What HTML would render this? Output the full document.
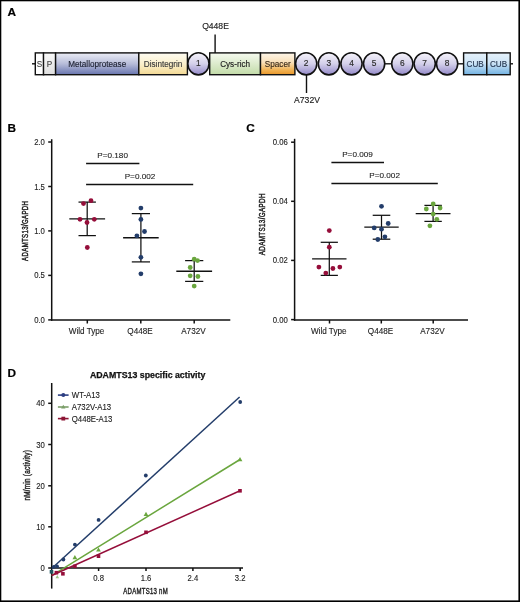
<!DOCTYPE html><html><head><meta charset="utf-8"><style>
html,body{margin:0;padding:0;background:#fff;}
svg{display:block;will-change:transform;font-family:"Liberation Sans", sans-serif;}
</style></head><body>
<svg width="520" height="602" viewBox="0 0 520 602">
<defs>
<linearGradient id="gP" x1="0" y1="0" x2="0" y2="1"><stop offset="0" stop-color="#fafafa"/><stop offset="1" stop-color="#dedede"/></linearGradient>
<linearGradient id="gM" x1="0" y1="0" x2="0" y2="1"><stop offset="0" stop-color="#eceef6"/><stop offset="0.5" stop-color="#b7bcd9"/><stop offset="1" stop-color="#6774ae"/></linearGradient>
<linearGradient id="gD" x1="0" y1="0" x2="0" y2="1"><stop offset="0" stop-color="#fefcf2"/><stop offset="0.5" stop-color="#fbf0cc"/><stop offset="1" stop-color="#f3d994"/></linearGradient>
<linearGradient id="gC" x1="0" y1="0" x2="0" y2="1"><stop offset="0" stop-color="#f6f4fb"/><stop offset="0.5" stop-color="#d4d0ea"/><stop offset="1" stop-color="#9288c8"/></linearGradient>
<linearGradient id="gY" x1="0" y1="0" x2="0" y2="1"><stop offset="0" stop-color="#f6fbf0"/><stop offset="1" stop-color="#c2dba8"/></linearGradient>
<linearGradient id="gS" x1="0" y1="0" x2="0" y2="1"><stop offset="0" stop-color="#fdf6ea"/><stop offset="0.45" stop-color="#f9deb6"/><stop offset="0.8" stop-color="#f0b050"/><stop offset="1" stop-color="#e8962a"/></linearGradient>
<linearGradient id="gU" x1="0" y1="0" x2="0" y2="1"><stop offset="0" stop-color="#e6f2fb"/><stop offset="0.45" stop-color="#cfe5f6"/><stop offset="1" stop-color="#72b2e2"/></linearGradient>
</defs>
<rect x="0" y="0" width="520" height="1.3" fill="#000"/>
<rect x="0" y="0" width="1.3" height="602" fill="#000"/>
<rect x="518.4" y="0" width="1.6" height="602" fill="#000"/>
<rect x="0" y="600.4" width="520" height="1.6" fill="#000"/>
<text transform="translate(7.5,16.1)" font-size="11.8" text-anchor="start" font-weight="bold" fill="#000" stroke="#000" stroke-width="0.2">A</text>
<text transform="translate(7.5,131.8)" font-size="11.8" text-anchor="start" font-weight="bold" fill="#000" stroke="#000" stroke-width="0.2">B</text>
<text transform="translate(246.3,131.7)" font-size="11.8" text-anchor="start" font-weight="bold" fill="#000" stroke="#000" stroke-width="0.2">C</text>
<text transform="translate(7.5,377.1)" font-size="11.8" text-anchor="start" font-weight="bold" fill="#000" stroke="#000" stroke-width="0.2">D</text>
<g stroke="#111" stroke-width="1.4">
<line x1="32" y1="63.8" x2="35.3" y2="63.8"/>
<rect x="35.3" y="52.9" width="8.300000000000004" height="21.800000000000004" fill="#fff"/>
<rect x="43.5" y="52.9" width="12.100000000000001" height="21.800000000000004" fill="url(#gP)"/>
<rect x="55.6" y="52.9" width="83.20000000000002" height="21.800000000000004" fill="url(#gM)"/>
<rect x="138.8" y="52.9" width="48.599999999999994" height="21.800000000000004" fill="url(#gD)"/>
<rect x="209.7" y="52.9" width="50.80000000000001" height="21.800000000000004" fill="url(#gY)"/>
<rect x="260.5" y="52.9" width="34.39999999999998" height="21.800000000000004" fill="url(#gS)"/>
<rect x="463.6" y="52.9" width="23.19999999999999" height="21.800000000000004" fill="url(#gU)"/>
<rect x="486.8" y="52.9" width="23.399999999999977" height="21.800000000000004" fill="url(#gU)"/>
<line x1="384" y1="63.8" x2="392" y2="63.8"/>
<line x1="457" y1="63.8" x2="464" y2="63.8"/>
<line x1="510" y1="63.8" x2="513" y2="63.8"/>
<ellipse cx="198.4" cy="63.8" rx="10.6" ry="11.1" fill="url(#gC)" stroke-width="1.6"/>
<ellipse cx="306.2" cy="63.8" rx="10.6" ry="11.1" fill="url(#gC)" stroke-width="1.6"/>
<ellipse cx="328.9" cy="63.8" rx="10.6" ry="11.1" fill="url(#gC)" stroke-width="1.6"/>
<ellipse cx="351.5" cy="63.8" rx="10.6" ry="11.1" fill="url(#gC)" stroke-width="1.6"/>
<ellipse cx="374.1" cy="63.8" rx="10.6" ry="11.1" fill="url(#gC)" stroke-width="1.6"/>
<ellipse cx="402.3" cy="63.8" rx="10.6" ry="11.1" fill="url(#gC)" stroke-width="1.6"/>
<ellipse cx="424.7" cy="63.8" rx="10.6" ry="11.1" fill="url(#gC)" stroke-width="1.6"/>
<ellipse cx="447.1" cy="63.8" rx="10.6" ry="11.1" fill="url(#gC)" stroke-width="1.6"/>
<line x1="215.1" y1="34.5" x2="215.1" y2="52.9"/>
<line x1="306.5" y1="74.7" x2="306.5" y2="93"/>
</g>
<text transform="translate(39.45,66.8) scale(0.96,1)" font-size="8.5" text-anchor="middle" font-weight="normal" fill="#444" stroke="#444" stroke-width="0.15">S</text>
<text transform="translate(49.55,66.8) scale(0.96,1)" font-size="8.5" text-anchor="middle" font-weight="normal" fill="#444" stroke="#444" stroke-width="0.15">P</text>
<text transform="translate(97.2,66.8) scale(0.96,1)" font-size="8.5" text-anchor="middle" font-weight="normal" fill="#1c2030" stroke="#1c2030" stroke-width="0.15">Metalloprotease</text>
<text transform="translate(163.10000000000002,66.8) scale(0.96,1)" font-size="8.5" text-anchor="middle" font-weight="normal" fill="#3a3a3a" stroke="#3a3a3a" stroke-width="0.15">Disintegrin</text>
<text transform="translate(235.1,66.8) scale(0.96,1)" font-size="8.5" text-anchor="middle" font-weight="normal" fill="#222" stroke="#222" stroke-width="0.15">Cys-rich</text>
<text transform="translate(277.7,66.8) scale(0.96,1)" font-size="8.5" text-anchor="middle" font-weight="normal" fill="#3a2a1a" stroke="#3a2a1a" stroke-width="0.15">Spacer</text>
<text transform="translate(475.20000000000005,66.8) scale(0.96,1)" font-size="8.5" text-anchor="middle" font-weight="normal" fill="#253650" stroke="#253650" stroke-width="0.15">CUB</text>
<text transform="translate(498.5,66.8) scale(0.96,1)" font-size="8.5" text-anchor="middle" font-weight="normal" fill="#253650" stroke="#253650" stroke-width="0.15">CUB</text>
<text transform="translate(198.4,66.39999999999999)" font-size="8.4" text-anchor="middle" font-weight="normal" fill="#2a2a2a" stroke="#2a2a2a" stroke-width="0.15">1</text>
<text transform="translate(306.2,66.39999999999999)" font-size="8.4" text-anchor="middle" font-weight="normal" fill="#2a2a2a" stroke="#2a2a2a" stroke-width="0.15">2</text>
<text transform="translate(328.9,66.39999999999999)" font-size="8.4" text-anchor="middle" font-weight="normal" fill="#2a2a2a" stroke="#2a2a2a" stroke-width="0.15">3</text>
<text transform="translate(351.5,66.39999999999999)" font-size="8.4" text-anchor="middle" font-weight="normal" fill="#2a2a2a" stroke="#2a2a2a" stroke-width="0.15">4</text>
<text transform="translate(374.1,66.39999999999999)" font-size="8.4" text-anchor="middle" font-weight="normal" fill="#2a2a2a" stroke="#2a2a2a" stroke-width="0.15">5</text>
<text transform="translate(402.3,66.39999999999999)" font-size="8.4" text-anchor="middle" font-weight="normal" fill="#2a2a2a" stroke="#2a2a2a" stroke-width="0.15">6</text>
<text transform="translate(424.7,66.39999999999999)" font-size="8.4" text-anchor="middle" font-weight="normal" fill="#2a2a2a" stroke="#2a2a2a" stroke-width="0.15">7</text>
<text transform="translate(447.1,66.39999999999999)" font-size="8.4" text-anchor="middle" font-weight="normal" fill="#2a2a2a" stroke="#2a2a2a" stroke-width="0.15">8</text>
<text transform="translate(215.5,29.2)" font-size="8.6" text-anchor="middle" font-weight="normal" fill="#222" stroke="#222" stroke-width="0.15">Q448E</text>
<text transform="translate(307,103.2)" font-size="8.6" text-anchor="middle" font-weight="normal" fill="#222" stroke="#222" stroke-width="0.15">A732V</text>
<g stroke="#111" stroke-width="1.5" fill="none">
<line x1="51.7" y1="139.2" x2="51.7" y2="320.7"/>
<line x1="51.0" y1="320.0" x2="230.3" y2="320.0"/>
<line x1="48.2" y1="142" x2="51.7" y2="142"/>
<line x1="48.2" y1="186.5" x2="51.7" y2="186.5"/>
<line x1="48.2" y1="230.9" x2="51.7" y2="230.9"/>
<line x1="48.2" y1="275.4" x2="51.7" y2="275.4"/>
<line x1="48.2" y1="319.9" x2="51.7" y2="319.9"/>
<line x1="87.3" y1="320.0" x2="87.3" y2="323.5"/>
<line x1="140.8" y1="320.0" x2="140.8" y2="323.5"/>
<line x1="194.2" y1="320.0" x2="194.2" y2="323.5"/>
</g>
<text transform="translate(44.900000000000006,145.0) scale(0.92,1)" font-size="8.4" text-anchor="end" font-weight="normal" fill="#222" stroke="#222" stroke-width="0.12">2.0</text>
<text transform="translate(44.900000000000006,189.5) scale(0.92,1)" font-size="8.4" text-anchor="end" font-weight="normal" fill="#222" stroke="#222" stroke-width="0.12">1.5</text>
<text transform="translate(44.900000000000006,233.9) scale(0.92,1)" font-size="8.4" text-anchor="end" font-weight="normal" fill="#222" stroke="#222" stroke-width="0.12">1.0</text>
<text transform="translate(44.900000000000006,278.4) scale(0.92,1)" font-size="8.4" text-anchor="end" font-weight="normal" fill="#222" stroke="#222" stroke-width="0.12">0.5</text>
<text transform="translate(44.900000000000006,322.9) scale(0.92,1)" font-size="8.4" text-anchor="end" font-weight="normal" fill="#222" stroke="#222" stroke-width="0.12">0.0</text>
<text transform="translate(86.5,333.8) scale(0.97,1)" font-size="8.4" text-anchor="middle" font-weight="normal" fill="#222" stroke="#222" stroke-width="0.12">Wild Type</text>
<text transform="translate(140.0,333.8) scale(0.97,1)" font-size="8.4" text-anchor="middle" font-weight="normal" fill="#222" stroke="#222" stroke-width="0.12">Q448E</text>
<text transform="translate(193.39999999999998,333.8) scale(0.97,1)" font-size="8.4" text-anchor="middle" font-weight="normal" fill="#222" stroke="#222" stroke-width="0.12">A732V</text>
<g stroke="#111" stroke-width="1.25">
<line x1="87.2" y1="202.1" x2="87.2" y2="235.6"/>
<line x1="78.5" y1="202.1" x2="95.9" y2="202.1"/>
<line x1="78.5" y1="235.6" x2="95.9" y2="235.6"/>
<line x1="69.30000000000001" y1="218.9" x2="105.1" y2="218.9" stroke-width="1.4"/>
</g>
<circle cx="91" cy="200.7" r="2.4" fill="#950e3a"/>
<circle cx="83.5" cy="203.6" r="2.4" fill="#950e3a"/>
<circle cx="80" cy="219.3" r="2.4" fill="#950e3a"/>
<circle cx="94.3" cy="219.3" r="2.4" fill="#950e3a"/>
<circle cx="87" cy="222.5" r="2.4" fill="#950e3a"/>
<circle cx="87.3" cy="247.5" r="2.4" fill="#950e3a"/>
<g stroke="#111" stroke-width="1.25">
<line x1="140.9" y1="213.6" x2="140.9" y2="261.9"/>
<line x1="131.8" y1="213.6" x2="150.0" y2="213.6"/>
<line x1="131.8" y1="261.9" x2="150.0" y2="261.9"/>
<line x1="123.10000000000001" y1="237.7" x2="158.70000000000002" y2="237.7" stroke-width="1.4"/>
</g>
<circle cx="140.9" cy="208.1" r="2.4" fill="#233d6a"/>
<circle cx="140.9" cy="219.4" r="2.4" fill="#233d6a"/>
<circle cx="144.5" cy="231.5" r="2.4" fill="#233d6a"/>
<circle cx="136.9" cy="235.8" r="2.4" fill="#233d6a"/>
<circle cx="140.9" cy="257.3" r="2.4" fill="#233d6a"/>
<circle cx="140.9" cy="273.8" r="2.4" fill="#233d6a"/>
<g stroke="#111" stroke-width="1.25">
<line x1="194.2" y1="260.6" x2="194.2" y2="281.4"/>
<line x1="185.1" y1="260.6" x2="203.29999999999998" y2="260.6"/>
<line x1="185.1" y1="281.4" x2="203.29999999999998" y2="281.4"/>
<line x1="176.29999999999998" y1="271.2" x2="212.1" y2="271.2" stroke-width="1.4"/>
</g>
<circle cx="194.2" cy="259.2" r="2.4" fill="#6aa63e"/>
<circle cx="197.5" cy="260.6" r="2.4" fill="#6aa63e"/>
<circle cx="190.2" cy="267.5" r="2.4" fill="#6aa63e"/>
<circle cx="190.2" cy="275.8" r="2.4" fill="#6aa63e"/>
<circle cx="197.9" cy="276.5" r="2.4" fill="#6aa63e"/>
<circle cx="194.2" cy="286.1" r="2.4" fill="#6aa63e"/>
<line x1="86.1" y1="163.5" x2="139.4" y2="163.5" stroke="#111" stroke-width="1.3"/>
<text transform="translate(112.6,157.9) scale(1.01,1)" font-size="8.1" text-anchor="middle" font-weight="normal" fill="#222" stroke="#222" stroke-width="0.1">P=0.180</text>
<line x1="86.1" y1="184.5" x2="193.2" y2="184.5" stroke="#111" stroke-width="1.3"/>
<text transform="translate(140,178.9) scale(1.01,1)" font-size="8.1" text-anchor="middle" font-weight="normal" fill="#222" stroke="#222" stroke-width="0.1">P=0.002</text>
<text transform="translate(27.9,230.8) rotate(-90) scale(0.72,1)" font-size="8.5" text-anchor="middle" font-weight="normal" fill="#222" stroke="#222" stroke-width="0.45" letter-spacing="0.45">ADAMTS13/GAPDH</text>
<g stroke="#111" stroke-width="1.5" fill="none">
<line x1="294.6" y1="138.8" x2="294.6" y2="320.7"/>
<line x1="293.90000000000003" y1="320.0" x2="468" y2="320.0"/>
<line x1="291.1" y1="142.2" x2="294.6" y2="142.2"/>
<line x1="291.1" y1="201.3" x2="294.6" y2="201.3"/>
<line x1="291.1" y1="260.4" x2="294.6" y2="260.4"/>
<line x1="291.1" y1="319.6" x2="294.6" y2="319.6"/>
<line x1="329.5" y1="320.0" x2="329.5" y2="323.5"/>
<line x1="381.3" y1="320.0" x2="381.3" y2="323.5"/>
<line x1="433.2" y1="320.0" x2="433.2" y2="323.5"/>
</g>
<text transform="translate(287.8,145.2) scale(0.92,1)" font-size="8.4" text-anchor="end" font-weight="normal" fill="#222" stroke="#222" stroke-width="0.12">0.06</text>
<text transform="translate(287.8,204.3) scale(0.92,1)" font-size="8.4" text-anchor="end" font-weight="normal" fill="#222" stroke="#222" stroke-width="0.12">0.04</text>
<text transform="translate(287.8,263.4) scale(0.92,1)" font-size="8.4" text-anchor="end" font-weight="normal" fill="#222" stroke="#222" stroke-width="0.12">0.02</text>
<text transform="translate(287.8,322.6) scale(0.92,1)" font-size="8.4" text-anchor="end" font-weight="normal" fill="#222" stroke="#222" stroke-width="0.12">0.00</text>
<text transform="translate(328.7,333.8) scale(0.97,1)" font-size="8.4" text-anchor="middle" font-weight="normal" fill="#222" stroke="#222" stroke-width="0.12">Wild Type</text>
<text transform="translate(380.5,333.8) scale(0.97,1)" font-size="8.4" text-anchor="middle" font-weight="normal" fill="#222" stroke="#222" stroke-width="0.12">Q448E</text>
<text transform="translate(432.4,333.8) scale(0.97,1)" font-size="8.4" text-anchor="middle" font-weight="normal" fill="#222" stroke="#222" stroke-width="0.12">A732V</text>
<g stroke="#111" stroke-width="1.25">
<line x1="329.3" y1="242.3" x2="329.3" y2="275.4"/>
<line x1="320.7" y1="242.3" x2="337.90000000000003" y2="242.3"/>
<line x1="320.7" y1="275.4" x2="337.90000000000003" y2="275.4"/>
<line x1="312.1" y1="258.9" x2="346.5" y2="258.9" stroke-width="1.4"/>
</g>
<circle cx="329.3" cy="230.6" r="2.4" fill="#950e3a"/>
<circle cx="329.3" cy="247.2" r="2.4" fill="#950e3a"/>
<circle cx="318.9" cy="267.1" r="2.4" fill="#950e3a"/>
<circle cx="332.9" cy="268.5" r="2.4" fill="#950e3a"/>
<circle cx="339.8" cy="267.1" r="2.4" fill="#950e3a"/>
<circle cx="325.8" cy="273.1" r="2.4" fill="#950e3a"/>
<g stroke="#111" stroke-width="1.25">
<line x1="381.5" y1="215.3" x2="381.5" y2="239.2"/>
<line x1="372.7" y1="215.3" x2="390.3" y2="215.3"/>
<line x1="372.7" y1="239.2" x2="390.3" y2="239.2"/>
<line x1="364.3" y1="227.1" x2="398.7" y2="227.1" stroke-width="1.4"/>
</g>
<circle cx="381.5" cy="206.3" r="2.4" fill="#233d6a"/>
<circle cx="388.2" cy="223.5" r="2.4" fill="#233d6a"/>
<circle cx="374.2" cy="227.9" r="2.4" fill="#233d6a"/>
<circle cx="381.5" cy="229.2" r="2.4" fill="#233d6a"/>
<circle cx="384.9" cy="236.8" r="2.4" fill="#233d6a"/>
<circle cx="377.8" cy="239.5" r="2.4" fill="#233d6a"/>
<g stroke="#111" stroke-width="1.25">
<line x1="433.1" y1="205.4" x2="433.1" y2="221.4"/>
<line x1="424.40000000000003" y1="205.4" x2="441.8" y2="205.4"/>
<line x1="424.40000000000003" y1="221.4" x2="441.8" y2="221.4"/>
<line x1="415.70000000000005" y1="213.6" x2="450.5" y2="213.6" stroke-width="1.4"/>
</g>
<circle cx="433.2" cy="204.0" r="2.4" fill="#6aa63e"/>
<circle cx="426.3" cy="209.0" r="2.4" fill="#6aa63e"/>
<circle cx="440.1" cy="208.0" r="2.4" fill="#6aa63e"/>
<circle cx="433.2" cy="214.1" r="2.4" fill="#6aa63e"/>
<circle cx="436.8" cy="219.3" r="2.4" fill="#6aa63e"/>
<circle cx="429.9" cy="225.8" r="2.4" fill="#6aa63e"/>
<line x1="331.4" y1="162.5" x2="384" y2="162.5" stroke="#111" stroke-width="1.3"/>
<text transform="translate(357.5,156.9) scale(1.01,1)" font-size="8.1" text-anchor="middle" font-weight="normal" fill="#222" stroke="#222" stroke-width="0.1">P=0.009</text>
<line x1="331.4" y1="183.5" x2="437.8" y2="183.5" stroke="#111" stroke-width="1.3"/>
<text transform="translate(384.6,177.9) scale(1.01,1)" font-size="8.1" text-anchor="middle" font-weight="normal" fill="#222" stroke="#222" stroke-width="0.1">P=0.002</text>
<text transform="translate(265.2,224.2) rotate(-90) scale(0.74,1)" font-size="8.5" text-anchor="middle" font-weight="normal" fill="#222" stroke="#222" stroke-width="0.45" letter-spacing="0.45">ADAMTS13/GAPDH</text>
<text transform="translate(147.6,378.3)" font-size="8.8" text-anchor="middle" font-weight="bold" fill="#111" stroke="#111" stroke-width="0.25">ADAMTS13 specific activity</text>
<g stroke="#111" stroke-width="1.5">
<line x1="51.7" y1="383" x2="51.7" y2="588.6"/>
<line x1="51.7" y1="568.0" x2="243" y2="568.0"/>
<line x1="48.2" y1="403.3" x2="51.7" y2="403.3"/>
<line x1="48.2" y1="444.5" x2="51.7" y2="444.5"/>
<line x1="48.2" y1="485.8" x2="51.7" y2="485.8"/>
<line x1="48.2" y1="526.8" x2="51.7" y2="526.8"/>
<line x1="48.2" y1="568" x2="51.7" y2="568"/>
<line x1="98.6" y1="568.0" x2="98.6" y2="571.0"/>
<line x1="146" y1="568.0" x2="146" y2="571.0"/>
<line x1="192.9" y1="568.0" x2="192.9" y2="571.0"/>
<line x1="240.2" y1="568.0" x2="240.2" y2="571.0"/>
</g>
<text transform="translate(44.900000000000006,406.3) scale(0.92,1)" font-size="8.4" text-anchor="end" font-weight="normal" fill="#222" stroke="#222" stroke-width="0.12">40</text>
<text transform="translate(44.900000000000006,447.5) scale(0.92,1)" font-size="8.4" text-anchor="end" font-weight="normal" fill="#222" stroke="#222" stroke-width="0.12">30</text>
<text transform="translate(44.900000000000006,488.8) scale(0.92,1)" font-size="8.4" text-anchor="end" font-weight="normal" fill="#222" stroke="#222" stroke-width="0.12">20</text>
<text transform="translate(44.900000000000006,529.8) scale(0.92,1)" font-size="8.4" text-anchor="end" font-weight="normal" fill="#222" stroke="#222" stroke-width="0.12">10</text>
<text transform="translate(44.900000000000006,571.0) scale(0.92,1)" font-size="8.4" text-anchor="end" font-weight="normal" fill="#222" stroke="#222" stroke-width="0.12">0</text>
<text transform="translate(98.6,581.4) scale(0.92,1)" font-size="8.4" text-anchor="middle" font-weight="normal" fill="#222" stroke="#222" stroke-width="0.12">0.8</text>
<text transform="translate(146,581.4) scale(0.92,1)" font-size="8.4" text-anchor="middle" font-weight="normal" fill="#222" stroke="#222" stroke-width="0.12">1.6</text>
<text transform="translate(192.9,581.4) scale(0.92,1)" font-size="8.4" text-anchor="middle" font-weight="normal" fill="#222" stroke="#222" stroke-width="0.12">2.4</text>
<text transform="translate(240.2,581.4) scale(0.92,1)" font-size="8.4" text-anchor="middle" font-weight="normal" fill="#222" stroke="#222" stroke-width="0.12">3.2</text>
<text transform="translate(30.3,475.3) rotate(-90) scale(0.74,1)" font-size="8.6" text-anchor="middle" font-weight="normal" fill="#222" stroke="#222" stroke-width="0.4" letter-spacing="0.35">nM/min (activity)</text>
<text transform="translate(145.6,594.0) scale(0.72,1)" font-size="8.4" text-anchor="middle" font-weight="normal" fill="#222" stroke="#222" stroke-width="0.4" letter-spacing="0.35">ADAMTS13 nM</text>
<line x1="51.7" y1="568.5" x2="239.6" y2="397" stroke="#233d6a" stroke-width="1.5"/>
<line x1="51.7" y1="575.6" x2="240" y2="459.5" stroke="#6aa63e" stroke-width="1.5"/>
<line x1="51.7" y1="575.5" x2="240" y2="490.8" stroke="#950e3a" stroke-width="1.5"/>
<path d="M57.3 575.1208 L59.099999999999994 578.2528 L55.5 578.2528Z" fill="#9cc888"/>
<path d="M74.9 555.0944000000001 L77.30000000000001 559.2704 L72.5 559.2704Z" fill="#6aa63e"/>
<path d="M98.5 547.3944 L100.9 551.5704 L96.1 551.5704Z" fill="#6aa63e"/>
<path d="M146 511.79439999999994 L148.4 515.9703999999999 L143.6 515.9703999999999Z" fill="#6aa63e"/>
<path d="M240 456.9944 L242.4 461.1704 L237.6 461.1704Z" fill="#6aa63e"/>
<rect x="54.6" y="570.9000000000001" width="3.6" height="3.6" fill="#950e3a"/>
<rect x="61.1" y="572.0" width="3.6" height="3.6" fill="#950e3a"/>
<rect x="73.10000000000001" y="564.5" width="3.6" height="3.6" fill="#950e3a"/>
<rect x="96.7" y="554.4000000000001" width="3.6" height="3.6" fill="#950e3a"/>
<rect x="144.2" y="530.5" width="3.6" height="3.6" fill="#950e3a"/>
<rect x="238.2" y="489.0" width="3.6" height="3.6" fill="#950e3a"/>
<circle cx="53.8" cy="566.9" r="1.9" fill="#233d6a"/>
<circle cx="57.1" cy="566.4" r="1.9" fill="#233d6a"/>
<circle cx="63.4" cy="559.5" r="1.9" fill="#233d6a"/>
<circle cx="74.9" cy="544.6" r="1.9" fill="#233d6a"/>
<circle cx="98.6" cy="519.9" r="1.9" fill="#233d6a"/>
<circle cx="145.8" cy="475.5" r="1.9" fill="#233d6a"/>
<circle cx="240.2" cy="402" r="1.9" fill="#233d6a"/>
<rect x="49.7" y="570.0" width="3.6" height="3.6" fill="#1e5660"/>
<line x1="57.9" y1="395.1" x2="68.6" y2="395.1" stroke="#2c3e82" stroke-width="1.6"/>
<circle cx="63.3" cy="395.1" r="2.0" fill="#2c3e82"/>
<text transform="translate(71.8,398.1) scale(0.95,1)" font-size="8.2" text-anchor="start" font-weight="normal" fill="#1a1a1a" stroke="#1a1a1a" stroke-width="0.12">WT-A13</text>
<line x1="57.9" y1="407" x2="68.6" y2="407" stroke="#7a9e68" stroke-width="1.6"/>
<path d="M63.3 404.7032 L65.5 408.5312 L61.099999999999994 408.5312Z" fill="#7a9e68"/>
<text transform="translate(71.8,410.0) scale(0.95,1)" font-size="8.2" text-anchor="start" font-weight="normal" fill="#1a1a1a" stroke="#1a1a1a" stroke-width="0.12">A732V-A13</text>
<line x1="57.9" y1="418.6" x2="68.6" y2="418.6" stroke="#8c1434" stroke-width="1.6"/>
<rect x="61.4" y="416.70000000000005" width="3.8" height="3.8" fill="#8c1434"/>
<text transform="translate(71.8,421.6) scale(0.95,1)" font-size="8.2" text-anchor="start" font-weight="normal" fill="#1a1a1a" stroke="#1a1a1a" stroke-width="0.12">Q448E-A13</text>
</svg></body></html>
